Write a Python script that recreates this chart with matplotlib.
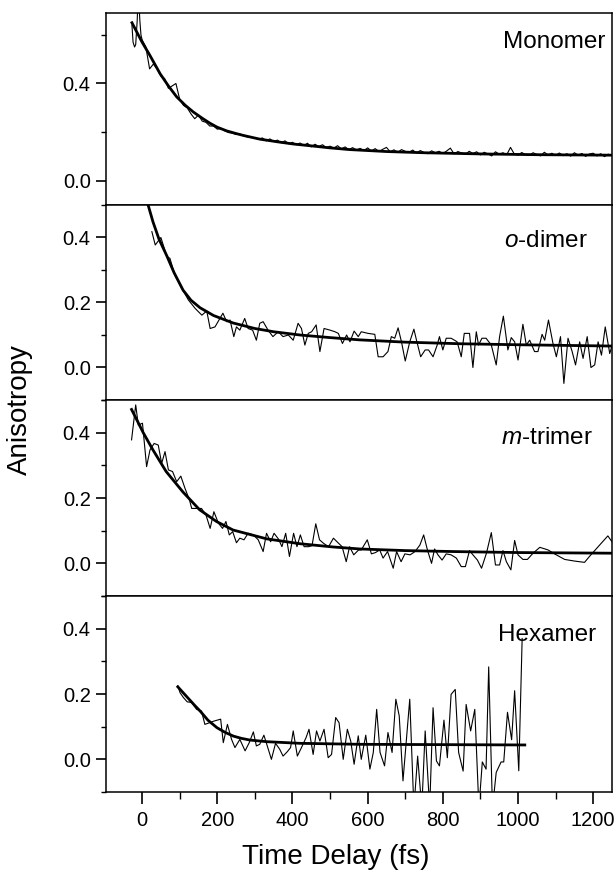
import numpy as np
import matplotlib
matplotlib.use("Agg")
import matplotlib.pyplot as plt
from matplotlib.ticker import MultipleLocator

plt.rcParams['font.family'] = ['Liberation Sans', 'DejaVu Sans']
plt.rcParams['mathtext.fontset'] = 'custom'
plt.rcParams['mathtext.it'] = 'Liberation Sans:italic'
plt.rcParams['mathtext.rm'] = 'Liberation Sans'

# ---- data ----
# Monomer
mono_t = [-27, -24, -20, -17, -13, -10, -6, -3, 0,
          10, 20, 30, 40, 50, 60, 70, 80, 90, 100,
          110, 120, 130, 140, 150, 160, 170, 180, 190, 200,
          210, 220, 230, 240, 250, 260, 270, 280, 290, 300,
          310, 320, 330, 340, 350, 360, 370, 380, 390, 400,
          410, 420, 430, 440, 450, 460, 470, 480, 490, 500,
          510, 520, 530, 540, 550, 560, 570, 580, 590, 600,
          610, 620, 630, 640, 650, 660, 670, 680, 690, 700,
          710, 720, 730, 740, 750, 760, 770, 780, 790, 800,
          810, 820, 830, 840, 850, 860, 870, 880, 890, 900,
          910, 920, 930, 940, 950, 960, 970, 980, 990, 1000,
          1010, 1020, 1030, 1040, 1050, 1060, 1070, 1080, 1090, 1100,
          1110, 1120, 1130, 1140, 1150, 1160, 1170, 1180, 1190, 1200,
          1210, 1220, 1230, 1240, 1250]
mono_r = [0.64, 0.57, 0.55, 0.56, 0.66, 0.78, 0.66, 0.60, 0.58,
          0.55, 0.46, 0.48, 0.46, 0.43, 0.42, 0.38, 0.39, 0.40, 0.335,
          0.31, 0.30, 0.275, 0.255, 0.27, 0.245, 0.24, 0.225, 0.225, 0.212,
          0.215, 0.205, 0.198, 0.196, 0.19, 0.192, 0.185, 0.18, 0.178, 0.176,
          0.171, 0.176, 0.164, 0.172, 0.161, 0.167, 0.156, 0.164, 0.152, 0.158,
          0.148, 0.155, 0.145, 0.154, 0.139, 0.150, 0.141, 0.148, 0.136, 0.142,
          0.134, 0.144, 0.131, 0.139, 0.128, 0.136, 0.126, 0.133, 0.124, 0.135,
          0.122, 0.132, 0.120, 0.129, 0.137, 0.119, 0.127, 0.116, 0.128, 0.121,
          0.117, 0.126, 0.114, 0.124, 0.116, 0.111, 0.123, 0.115, 0.121, 0.112,
          0.122, 0.134, 0.110, 0.120, 0.114, 0.108, 0.121, 0.112, 0.119, 0.106,
          0.117, 0.110, 0.102, 0.119, 0.109, 0.115, 0.107, 0.137, 0.110, 0.105,
          0.116, 0.107, 0.104, 0.115, 0.108, 0.102, 0.117, 0.106, 0.113, 0.104,
          0.114, 0.103, 0.111, 0.101, 0.115, 0.105, 0.112, 0.100, 0.110, 0.113,
          0.102, 0.111, 0.099, 0.109, 0.104]
mono_fit_t = [-27, 0, 21, 48, 70, 92, 115, 136, 160, 181, 200, 225, 250, 270, 313, 360,
              402, 446, 500, 552, 650, 750, 906, 1050, 1250]
mono_fit_r = [0.65, 0.57, 0.515, 0.44, 0.39, 0.345, 0.31, 0.283, 0.257, 0.236, 0.22, 0.205,
              0.194, 0.186, 0.171, 0.16, 0.151, 0.144, 0.135, 0.128, 0.12, 0.115, 0.11,
              0.107, 0.105]

# o-dimer
dim_t = [26, 35, 50, 66, 74, 87, 101, 123, 141, 159, 172, 181, 194, 215, 225, 234, 244,
         251, 260, 273, 282, 294, 304, 313, 322, 335, 348, 362, 375, 389, 402, 415, 424,
         433, 442, 451, 463, 473, 484, 500, 513, 522, 533, 544, 553, 564, 575,
         583, 601, 619, 628, 641, 654, 663, 672, 681, 690, 700, 712, 723, 731, 741, 753,
         762, 774, 785, 791, 800, 809, 822, 831, 838, 849, 857, 871, 880, 889, 895, 904,
         915, 929, 942, 951, 961, 973, 982, 991, 1000, 1013, 1022, 1031, 1044, 1053,
         1064, 1071, 1081, 1093, 1102, 1113, 1122, 1133, 1144, 1153, 1164, 1173, 1184,
         1194, 1204, 1213, 1222, 1232, 1244, 1253]
dim_r = [0.418, 0.377, 0.40, 0.341, 0.336, 0.285, 0.254, 0.208, 0.182, 0.161, 0.174, 0.12,
         0.125, 0.167, 0.141, 0.146, 0.095, 0.125, 0.115, 0.151, 0.12, 0.115, 0.084, 0.136,
         0.141, 0.115, 0.095, 0.11, 0.095, 0.10, 0.084, 0.136, 0.12, 0.069, 0.105, 0.11,
         0.131, 0.049, 0.12, 0.115, 0.11, 0.105, 0.074, 0.10, 0.079, 0.112, 0.095,
         0.11, 0.105, 0.102, 0.033, 0.033, 0.049, 0.095, 0.09, 0.122, 0.079, 0.02, 0.079,
         0.118, 0.079, 0.033, 0.054, 0.054, 0.033, 0.069, 0.095, 0.054, 0.09, 0.09, 0.084,
         0.079, 0.033, 0.105, 0.105, 0.0, 0.11, 0.069, 0.09, 0.09, 0.069, 0.008, 0.095,
         0.158, 0.054, 0.092, 0.079, 0.023, 0.133, 0.069, 0.084, 0.049, 0.049, 0.102,
         0.084, 0.146, 0.074, 0.033, 0.095, -0.049, 0.09, 0.049, 0.008, 0.079, 0.028,
         0.095, 0.0, 0.008, 0.079, 0.038, 0.125, 0.043, 0.079]
dim_fit_t = [16, 29, 45, 66, 85, 109, 130, 154, 190, 242, 300, 350, 420, 500, 579, 700,
             850, 1000, 1250]
dim_fit_r = [0.50, 0.448, 0.395, 0.343, 0.292, 0.238, 0.207, 0.184, 0.16, 0.137, 0.12,
             0.11, 0.10, 0.092, 0.085, 0.078, 0.073, 0.07, 0.066]

# m-trimer
tri_t = [-28, -17, -10, 1, 12, 21, 32, 43, 52, 61, 70, 81, 92, 103, 114, 126, 132, 145,
         158, 170, 181, 191, 203, 214, 223, 232, 241, 251, 260, 271, 282, 296, 309, 322,
         331, 342, 351, 363, 372, 382, 392, 403, 412, 421, 431, 443, 452, 462, 472, 483,
         496, 509, 523, 532, 543, 552, 563, 576,
         583, 599, 610, 621, 632, 641, 653, 668, 677, 689, 699, 713, 726, 739, 749, 759,
         770, 778, 787, 798, 809, 822, 836, 849, 860, 871, 880, 892, 903, 916, 929, 940,
         951, 960, 969, 981, 991, 1000, 1013, 1025, 1040, 1058, 1080, 1097, 1124, 1150,
         1177, 1190, 1221, 1239, 1253]
tri_r = [0.378, 0.485, 0.423, 0.429, 0.296, 0.347, 0.367, 0.362, 0.306, 0.342, 0.286,
         0.281, 0.25, 0.267, 0.23, 0.194, 0.168, 0.168, 0.168, 0.148, 0.107, 0.158, 0.123,
         0.107, 0.128, 0.087, 0.097, 0.063, 0.077, 0.072, 0.092, 0.087, 0.072, 0.036,
         0.092, 0.066, 0.092, 0.074, 0.051, 0.092, 0.021, 0.092, 0.051, 0.087, 0.051,
         0.051, 0.054, 0.121, 0.072, 0.061, 0.051, 0.077, 0.061, 0.051, 0.005, 0.051,
         0.026, 0.041,
         0.041, 0.072, 0.029, 0.033, 0.041, 0.016, 0.036, -0.015, 0.036, 0.005, 0.029,
         0.026, 0.036, 0.056, 0.087, 0.041, 0.0, 0.044, 0.026, 0.01, 0.029, 0.026, 0.016,
         -0.01, -0.01, 0.039, 0.026, 0.01, -0.015, 0.031, 0.094, -0.005, -0.005, 0.039,
         0.005, -0.02, 0.07, 0.026, 0.012, 0.012, 0.031, 0.049, 0.041, 0.029, 0.012,
         0.007, 0.003, 0.021, 0.061, 0.084, 0.061]
tri_fit_t = [-28, -10, 3, 29, 64, 109, 153, 198, 242, 331, 420, 509, 579, 700, 831, 1000,
             1253]
tri_fit_r = [0.471, 0.43, 0.40, 0.347, 0.281, 0.218, 0.164, 0.128, 0.102, 0.075, 0.060,
             0.050, 0.044, 0.039, 0.036, 0.033, 0.031]

# Hexamer
hex_t = [95, 101, 110, 120, 132, 145, 158, 167, 179, 191, 203, 209, 216, 227, 238, 247,
         260, 274, 285, 296, 304, 313, 324, 333, 344, 355, 366, 375, 386, 395, 402, 413,
         424, 436, 444, 455, 464, 473, 484, 495, 504, 515, 524, 535, 546, 555, 564, 575,
         583, 595, 606, 615, 624, 633, 645, 654, 665, 675, 684, 694, 712, 723, 733, 744,
         753, 765, 774, 783, 791, 803, 812, 822, 833, 842, 854, 862, 874, 885, 896, 905,
         915, 922, 932, 942, 955, 962, 972, 983, 991, 1002, 1011]
hex_r = [0.225, 0.204, 0.189, 0.176, 0.174, 0.153, 0.148, 0.107, 0.112, 0.117, 0.121,
         0.123, 0.051, 0.107, 0.061, 0.036, 0.061, 0.026, 0.051, 0.084, 0.041, 0.046,
         0.074, 0.041, 0.0, 0.049, 0.031, 0.01, 0.023, 0.036, 0.087, 0.01, 0.036, 0.066,
         0.092, 0.015, 0.087, 0.056, 0.092, 0.005, 0.015, 0.128, 0.112, 0.0, 0.092,
         0.056, -0.015, 0.072, 0.0, 0.074, -0.03, 0.021, 0.153, 0.021, -0.02, 0.082,
         0.021, 0.184, 0.133, -0.066, 0.184, -0.15, 0.01, -0.15, 0.087, -0.15, 0.158,
         -0.005, -0.02, 0.12, 0.005, 0.199, 0.214, 0.021, -0.036, 0.168, 0.087, 0.153,
         -0.15, -0.008, -0.03, 0.283, -0.15, -0.04, -0.008, -0.008, 0.144, 0.06, 0.21,
         -0.035, 0.37]
hex_fit_t = [95, 110, 125, 140, 155, 175, 199, 220, 243, 265, 287, 332, 420, 579, 800, 1018]
hex_fit_r = [0.222, 0.203, 0.184, 0.165, 0.147, 0.12, 0.097, 0.083, 0.071, 0.064, 0.059,
             0.054, 0.049, 0.046, 0.045, 0.044]

labels = ['Monomer', r'$\it{o}$-dimer', r'$\it{m}$-trimer', 'Hexamer']

# ---- figure ----
fig = plt.figure(figsize=(6.16, 8.73), dpi=100)
L, W = 106 / 616, 506 / 616
boxes = [(13, 205), (205, 400), (400, 596), (596, 792)]
label_pos = [(0.986, 0.85), (0.953, 0.815), (0.962, 0.806), (0.968, 0.80)]
series = [(mono_t, mono_r, mono_fit_t, mono_fit_r),
          (dim_t, dim_r, dim_fit_t, dim_fit_r),
          (tri_t, tri_r, tri_fit_t, tri_fit_r),
          (hex_t, hex_r, hex_fit_t, hex_fit_r)]

for i in range(4):
    top, bot = boxes[i]
    ax = fig.add_axes([L, 1 - bot / 873, W, (bot - top) / 873])
    t, r, ft, fr = series[i]
    ax.plot(t, r, color='black', lw=0.8)
    ax.plot(ft, fr, color='black', lw=2.0)
    ax.set_xlim(-96, 1250)
    if i == 0:
        ax.set_ylim(-0.1, 0.69)
        ax.yaxis.set_major_locator(MultipleLocator(0.4))
        ax.yaxis.set_minor_locator(MultipleLocator(0.2))
    else:
        ax.set_ylim(-0.1, 0.5)
        ax.yaxis.set_major_locator(MultipleLocator(0.2))
        ax.yaxis.set_minor_locator(MultipleLocator(0.1))
    ax.xaxis.set_major_locator(MultipleLocator(200))
    ax.xaxis.set_minor_locator(MultipleLocator(100))
    ax.tick_params(axis='x', which='major', direction='out', length=8.5, width=1.2,
                   labelsize=14.5, pad=5, top=False)
    ax.tick_params(axis='x', which='minor', direction='out', length=5, width=1.0, top=False)
    ax.tick_params(axis='y', which='major', direction='out', length=7, width=1.2,
                   labelsize=14.5, pad=4, right=False)
    ax.tick_params(axis='y', which='minor', direction='out', length=3.5, width=1.0, right=False)
    ax.yaxis.set_major_formatter(matplotlib.ticker.FormatStrFormatter('%.1f'))
    if i < 3:
        ax.tick_params(axis='x', labelbottom=False)
    for s in ax.spines.values():
        s.set_linewidth(1.1)
    ax.text(label_pos[i][0], label_pos[i][1], labels[i], transform=ax.transAxes,
            ha='right', va='center', fontsize=17.5)

fig.text(20 / 616, 1 - 410 / 873, 'Anisotropy', rotation=90, ha='center', va='center',
         fontsize=20)
fig.text(336 / 616, 1 - 857 / 873, 'Time Delay (fs)', ha='center', va='center', fontsize=20)

fig.savefig('out.png', dpi=100)
